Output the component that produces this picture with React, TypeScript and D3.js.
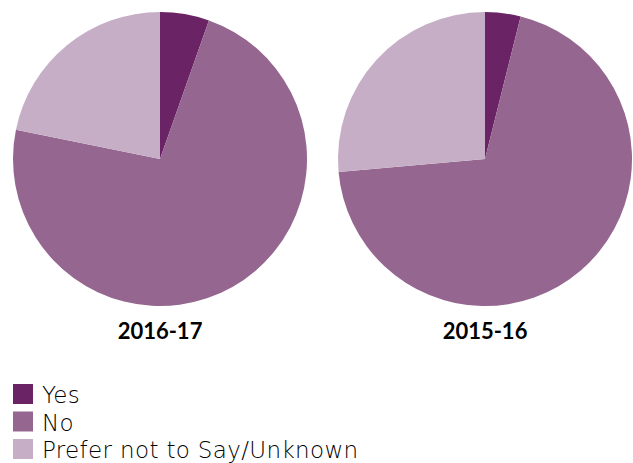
import React from "react";
import * as d3 from "d3";

const categories = ["Yes", "No", "Prefer not to Say/Unknown"];
const years = ["2016-17", "2015-16"];
const values2016 = [5.4, 72.8, 21.8];
const values2015 = [3.9, 69.7, 26.4];
const colors = ["#6a2365", "#95668f", "#c6aec7"];

export default function App() {
  const W = 633, H = 463;
  const r = 147;
  const centers = [160, 485];
  const cy = 159;
  const series = [values2016, values2015];
  const pie = d3.pie<number>().sort(null).value((d) => d);
  const arc = d3.arc<d3.PieArcDatum<number>>().innerRadius(0).outerRadius(r);
  const color = d3.scaleOrdinal<string, string>().domain(categories).range(colors);
  return (
    <svg width={W} height={H} style={{ position: "absolute", left: 0, top: 0 }}>
      {series.map((vals, i) => (
        <g key={i} transform={`translate(${centers[i]},${cy})`}>
          {pie(vals).map((a, j) => (
            <path key={j} d={arc(a) || ""} fill={color(categories[j])} />
          ))}
          <text x={0} y={180} textAnchor="middle" fontFamily="Lato, 'DejaVu Sans', sans-serif" fontWeight={700} fontSize={22} fill="#000">
            {years[i]}
          </text>
        </g>
      ))}
      {categories.map((c, j) => (
        <g key={c} transform={`translate(13,${384 + j * 27.5})`}>
          <rect width={20} height={20} fill={color(c)} />
          <text x={29} y={19} fontFamily="'DejaVu Sans', sans-serif" fontWeight={200} fontSize={23} letterSpacing={0.35} fill="#000">
            {c}
          </text>
        </g>
      ))}
    </svg>
  );
}
